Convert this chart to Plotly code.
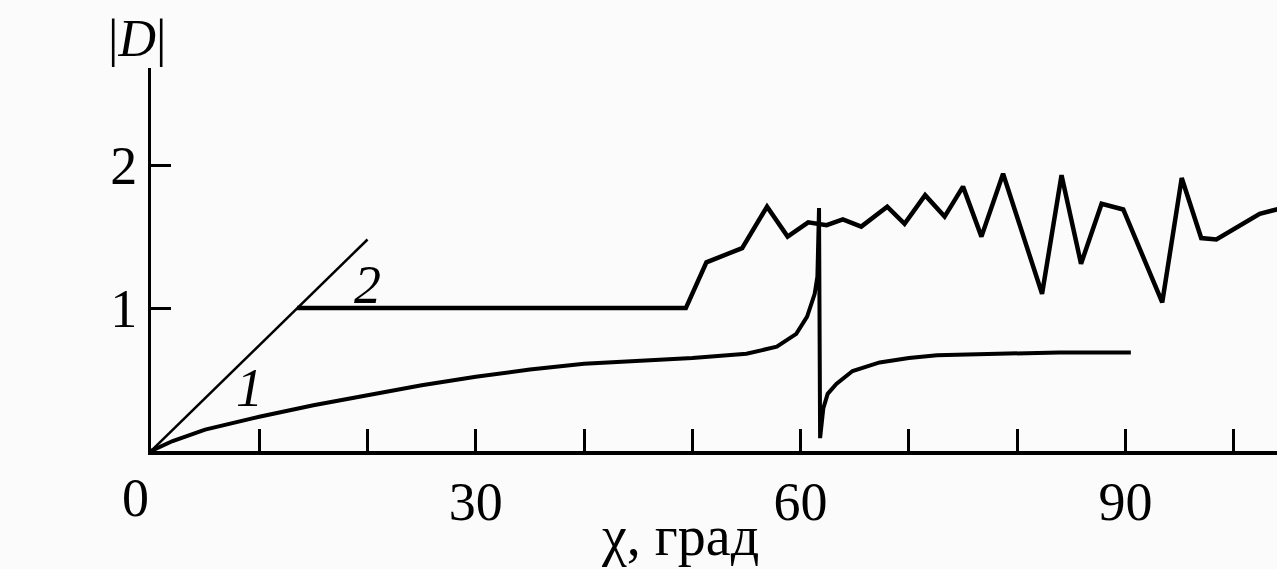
import plotly.graph_objects as go

# ---- data ----
curve1_x = [0, 2, 5, 10, 15, 20, 25, 30, 35, 40, 45, 50, 55, 57.8, 59.6, 60.6, 61.3, 61.55, 61.7,
            61.8, 62.1, 62.5, 63.3, 64.8, 67.3, 70, 72.6, 77.7, 83.9, 90.5]
curve1_y = [0, 0.07, 0.15, 0.24, 0.32, 0.39, 0.46, 0.52, 0.57, 0.61, 0.63, 0.65, 0.68, 0.73, 0.82, 0.94, 1.10, 1.22, 1.70,
            0.09, 0.30, 0.40, 0.47, 0.56, 0.62, 0.65, 0.67, 0.68, 0.69, 0.69]

curve2_diag_x = [0, 20]
curve2_diag_y = [0, 1.48]

curve2_x = [13.5, 49.4, 51.3, 54.6, 56.9, 58.8, 60.7, 62.4, 63.9, 65.6, 68.0, 69.6, 71.5, 73.3, 75.0, 76.7,
            78.7, 82.3, 84.1, 85.9, 87.8, 89.8, 93.4, 95.2, 97.0, 98.4, 102.4, 104.5]
curve2_y = [1.0, 1.0, 1.32, 1.42, 1.71, 1.50, 1.60, 1.58, 1.62, 1.57, 1.71, 1.59, 1.79, 1.64, 1.85, 1.50,
            1.94, 1.10, 1.93, 1.31, 1.73, 1.69, 1.04, 1.91, 1.49, 1.48, 1.66, 1.70]

x_tick_vals = [0, 10, 20, 30, 40, 50, 60, 70, 80, 90, 100]
x_tick_text = ["", "", "", "30", "", "", "60", "", "", "90", ""]
y_tick_vals = [1, 2]
y_tick_text = ["1", "2"]

curve_labels = ["1", "2"]
curve_label_x = [9.1, 20.0]
curve_label_y = [0.44, 1.16]

FONT = "Liberation Serif"

fig = go.Figure()
fig.add_trace(go.Scatter(x=curve2_diag_x, y=curve2_diag_y, mode="lines",
                         line=dict(color="black", width=2.5), hoverinfo="skip"))
fig.add_trace(go.Scatter(x=curve2_x, y=curve2_y, mode="lines",
                         line=dict(color="black", width=4.5), hoverinfo="skip"))
fig.add_trace(go.Scatter(x=curve1_x, y=curve1_y, mode="lines",
                         line=dict(color="black", width=4), hoverinfo="skip"))

for t, lx, ly in zip(curve_labels, curve_label_x, curve_label_y):
    fig.add_annotation(x=lx, y=ly, text=f"<i>{t}</i>", showarrow=False,
                       xanchor="center", yanchor="middle",
                       font=dict(family=FONT, size=54, color="black"))

fig.add_annotation(x=0, y=0, text="0", showarrow=False, xshift=-16, yshift=-47,
                   xanchor="center", yanchor="middle",
                   font=dict(family=FONT, size=54, color="black"))
fig.add_annotation(xref="paper", yref="paper", x=-0.012, y=1.078, text="|<i>D</i>|",
                   xanchor="center", yanchor="middle",
                   showarrow=False, font=dict(family=FONT, size=52, color="black"))
fig.add_annotation(xref="paper", yref="paper", x=0.47, y=-0.222, text="χ, град",
                   xanchor="center", yanchor="middle",
                   showarrow=False, font=dict(family=FONT, size=56, color="black"))

fig.update_layout(
    width=1277, height=569,
    margin=dict(l=151, r=0, t=68, b=118),
    paper_bgcolor="#fbfbfb", plot_bgcolor="#fbfbfb",
    showlegend=False,
    font=dict(family=FONT, size=54, color="black"),
)
fig.update_xaxes(range=[0, 104], showgrid=False, zeroline=False,
                 showline=True, linecolor="black", linewidth=4,
                 tickmode="array", tickvals=x_tick_vals, ticktext=x_tick_text,
                 ticks="inside", ticklen=22, tickwidth=3, tickcolor="black",
                 tickfont=dict(family=FONT, size=54, color="black"))
fig.update_yaxes(range=[0, 2.68], showgrid=False, zeroline=False,
                 showline=True, linecolor="black", linewidth=3,
                 tickmode="array", tickvals=y_tick_vals, ticktext=y_tick_text,
                 ticks="inside", ticklen=20, tickwidth=3, tickcolor="black",
                 tickfont=dict(family=FONT, size=54, color="black"))

fig.write_html("out.html", config={"displayModeBar": False},
               post_script="document.body.style.margin='0';document.body.style.overflow='hidden';")
